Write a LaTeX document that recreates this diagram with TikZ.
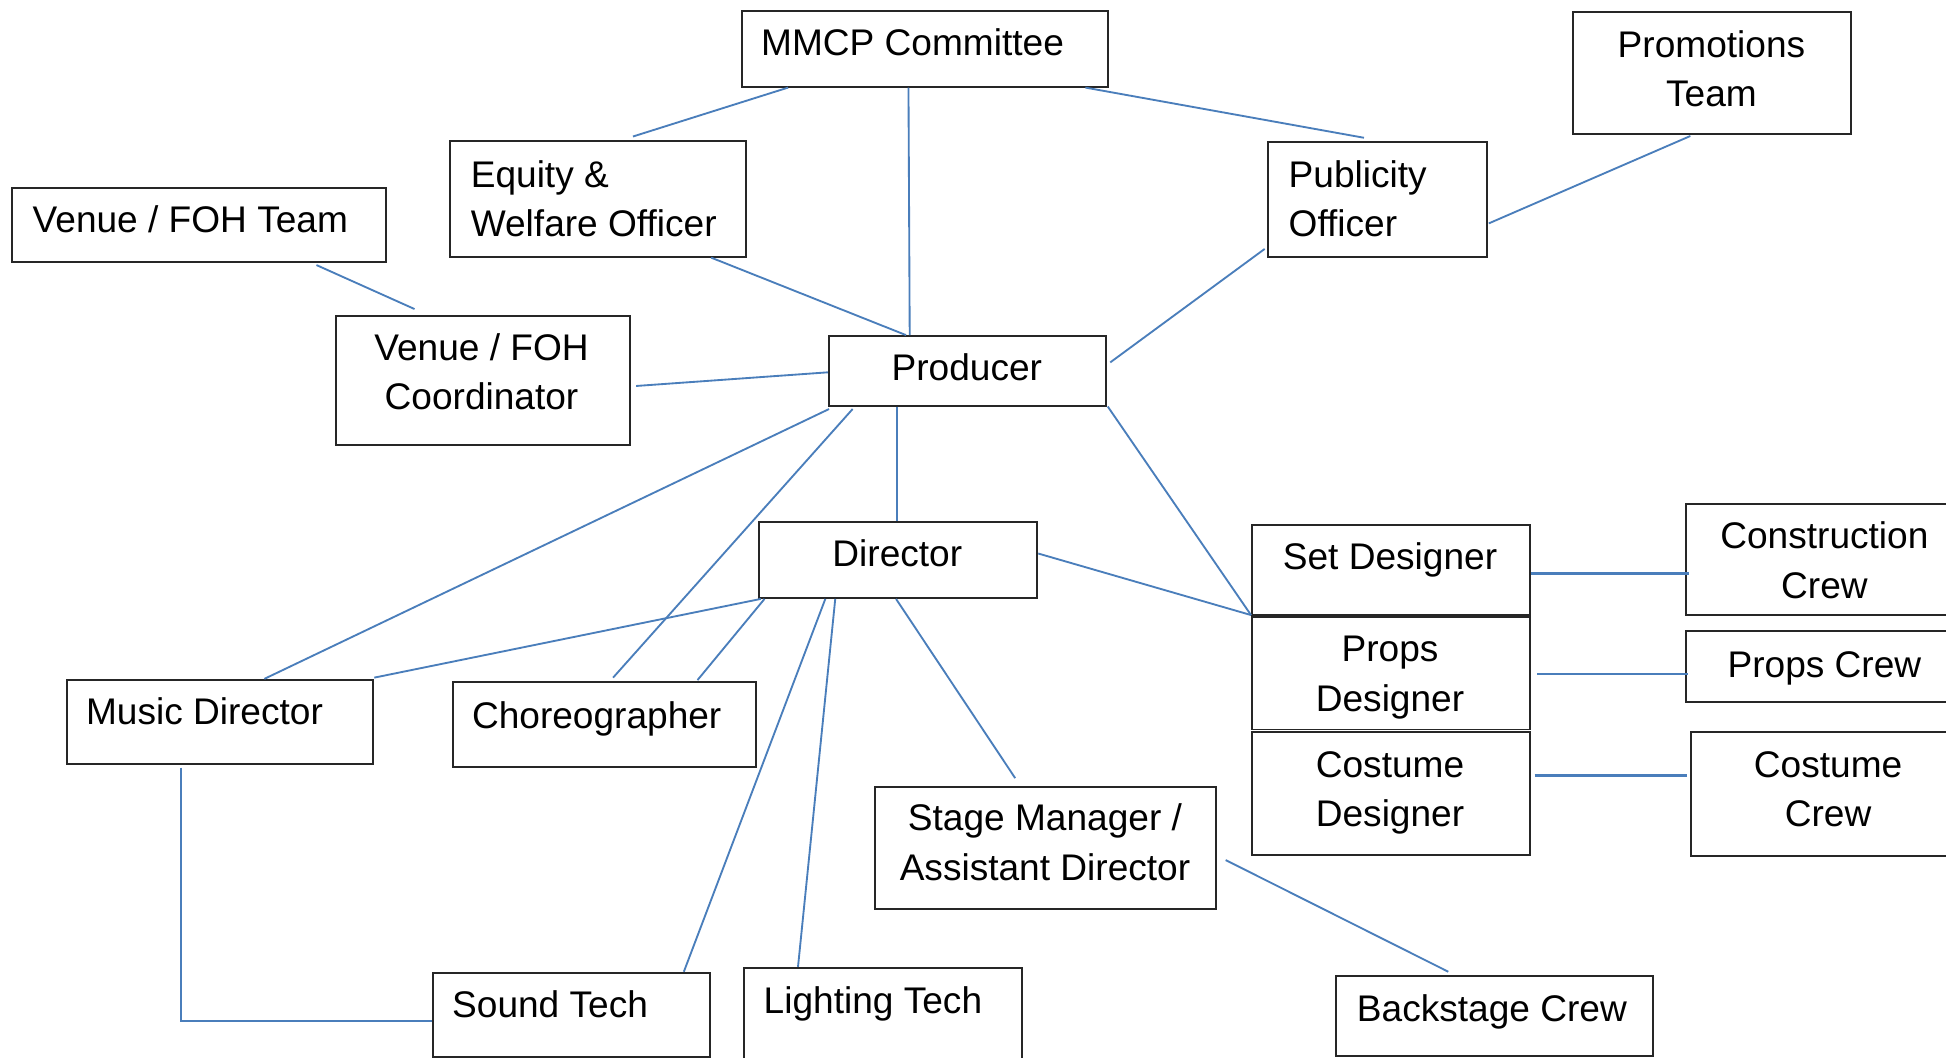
\documentclass[tikz,border=0pt]{standalone}
\usepackage{fontspec}
\setmainfont{Liberation Sans}
\usetikzlibrary{calc}
\newcommand\mystrut{\rule[-5.25pt]{0pt}{22.7pt}}
\definecolor{conn}{HTML}{4A7EBB}
\tikzset{
  box/.style={draw=black!85, line width=0.9pt, anchor=north west, inner sep=0pt},
  sz/.style n args={2}{minimum width=#1*0.02cm, minimum height=#2*0.02cm},
  txt/.style={inner sep=0pt, font=\fontsize{17pt}{22.7pt}\selectfont},
  ltxt/.style={txt, anchor=west, align=left},
  ctxt/.style={txt, anchor=center, align=center},
  link/.style={draw=conn, line width=0.85pt}
}
\begin{document}
\begin{tikzpicture}[x=0.02cm, y=-0.02cm]
\useasboundingbox (0,0) rectangle (1568,852);
\clip (0,0) rectangle (1568,852);
\fill[white] (0,0) rectangle (1568,852);
% boxes
\node[box, sz={295}{61}] (mmcp) at (597,8) {};
\node[box, sz={224}{98}] (promo) at (1267,9) {};
\node[box, sz={238}{93}] (equity) at (362,113) {};
\node[box, sz={176}{92}] (publicity) at (1021,114) {};
\node[box, sz={301}{59}] (vteam) at (9,151) {};
\node[box, sz={237}{104}] (vcoord) at (270,254) {};
\node[box, sz={223}{56}] (producer) at (667,270) {};
\node[box, sz={224}{61}] (director) at (611,420) {};
\node[box, sz={224}{73}] (setd) at (1008,422) {};
\node[box, sz={224}{91}] (propsd) at (1008,496) {};
\node[box, sz={224}{99}] (costd) at (1008,589) {};
\node[box, sz={224}{90}] (constr) at (1358,405) {};
\node[box, sz={224}{57}] (propsc) at (1358,508) {};
\node[box, sz={224}{100}] (costc) at (1362,589) {};
\node[box, sz={247}{68}] (musicd) at (53,547) {};
\node[box, sz={244}{68}] (choreo) at (364,549) {};
\node[box, sz={275}{99}] (sm) at (704,633) {};
\node[box, sz={223}{68}] (sound) at (348,783) {};
\node[box, sz={224}{80}] (lighting) at (599,779) {};
\node[box, sz={255}{64}] (backstage) at (1076,786) {};
% texts
\node[ltxt] (mmcp-t) at (613,34) {\mystrut MMCP Committee};
\node[ctxt] (promo-t) at (1379,55.5) {\mystrut Promotions\\\mystrut Team};
\node[ltxt] (equity-t) at (379,160) {\mystrut Equity \&\\\mystrut Welfare Officer};
\node[ltxt] (publicity-t) at (1038,160) {\mystrut Publicity\\\mystrut Officer};
\node[ltxt] (vteam-t) at (26,177) {\mystrut Venue / FOH Team};
\node[ctxt] (vcoord-t) at (388,299.5) {\mystrut Venue / FOH\\\mystrut Coordinator};
\node[ctxt] (producer-t) at (779,296) {\mystrut Producer};
\node[ctxt] (director-t) at (723,446) {\mystrut Director};
\node[ctxt] (setd-t) at (1120,448) {\mystrut Set Designer};
\node[ctxt] (propsd-t) at (1120,542.5) {\mystrut Props\\\mystrut Designer};
\node[ctxt] (costd-t) at (1120,635.5) {\mystrut Costume\\\mystrut Designer};
\node[ctxt] (constr-t) at (1470,451.5) {\mystrut Construction\\\mystrut Crew};
\node[ctxt] (propsc-t) at (1470,535) {\mystrut Props Crew};
\node[ctxt] (costc-t) at (1473,635.5) {\mystrut Costume\\\mystrut Crew};
\node[ltxt] (musicd-t) at (69,573) {\mystrut Music Director};
\node[ltxt] (choreo-t) at (380,576) {\mystrut Choreographer};
\node[ctxt] (sm-t) at (842,678.5) {\mystrut Stage Manager /\\\mystrut Assistant Director};
\node[ltxt] (sound-t) at (364,809) {\mystrut Sound Tech};
\node[ltxt] (lighting-t) at (615,806) {\mystrut Lighting Tech};
\node[ltxt] (backstage-t) at (1093,812) {\mystrut Backstage Crew};
% connectors
\draw[link] ($(mmcp.south west)+(38,0)$) -- ($(equity.north west)+(148,-3)$);
\draw[link] ($(mmcp.south west)+(135,0)$) -- ($(producer.north west)+(66,0)$);
\draw[link] ($(mmcp.south east)+(-19,0)$) -- ($(publicity.north west)+(78,-3)$);
\draw[link] ($(equity.south west)+(211,0)$) -- ($(producer.north west)+(63,0)$);
\draw[link] ($(vteam.south west)+(246,2)$) -- ($(vcoord.north west)+(64,-5)$);
\draw[link] ($(vcoord.north east)+(4,57)$) -- ($(producer.north west)+(0,30)$);
\draw[link] ($(publicity.south west)+(-2,-7)$) -- ($(producer.north east)+(3,22)$);
\draw[link] ($(promo.south west)+(95,1)$) -- ($(publicity.north east)+(1,66)$);
\draw[link] ($(producer.south west)+(1,2)$) -- ($(musicd.north west)+(160,0)$);
\draw[link] ($(producer.south west)+(20,2)$) -- ($(choreo.north west)+(130,-3)$);
\draw[link] ($(producer.south west)+(56,0)$) -- ($(director.north west)+(112,0)$);
\draw[link] ($(producer.south east)+(1,0)$) -- ($(setd.south west)+(0,-1)$);
\draw[link] ($(director.north east)+(0,26)$) -- ($(setd.south west)+(0,-1)$);
\draw[link] ($(director.south west)+(2,0)$) -- ($(musicd.north east)+(0,-1)$);
\draw[link] ($(director.south west)+(5,0)$) -- ($(choreo.north west)+(198,-1)$);
\draw[link] ($(director.south west)+(54,0)$) -- ($(sound.north west)+(203,0)$);
\draw[link] ($(director.south west)+(62,0)$) -- ($(lighting.north west)+(44,0)$);
\draw[link] ($(director.south west)+(111,0)$) -- ($(sm.north west)+(114,-6)$);
\draw[link] ($(sm.north east)+(7,60)$) -- ($(backstage.north west)+(91,-3)$);
\draw[link, line width=1.1pt] ($(setd.north east)+(0,40)$) -- ($(constr.north west)+(3,57)$);
\draw[link, line width=1.1pt] ($(propsd.north east)+(5,47)$) -- ($(propsc.north west)+(2,35)$);
\draw[link, line width=1.1pt] ($(costd.north east)+(3,36)$) -- ($(costc.north west)+(-3,36)$);
\draw[link] ($(musicd.south west)+(93,2)$) |- ($(sound.north west)+(0,40)$);
\end{tikzpicture}
\end{document}
